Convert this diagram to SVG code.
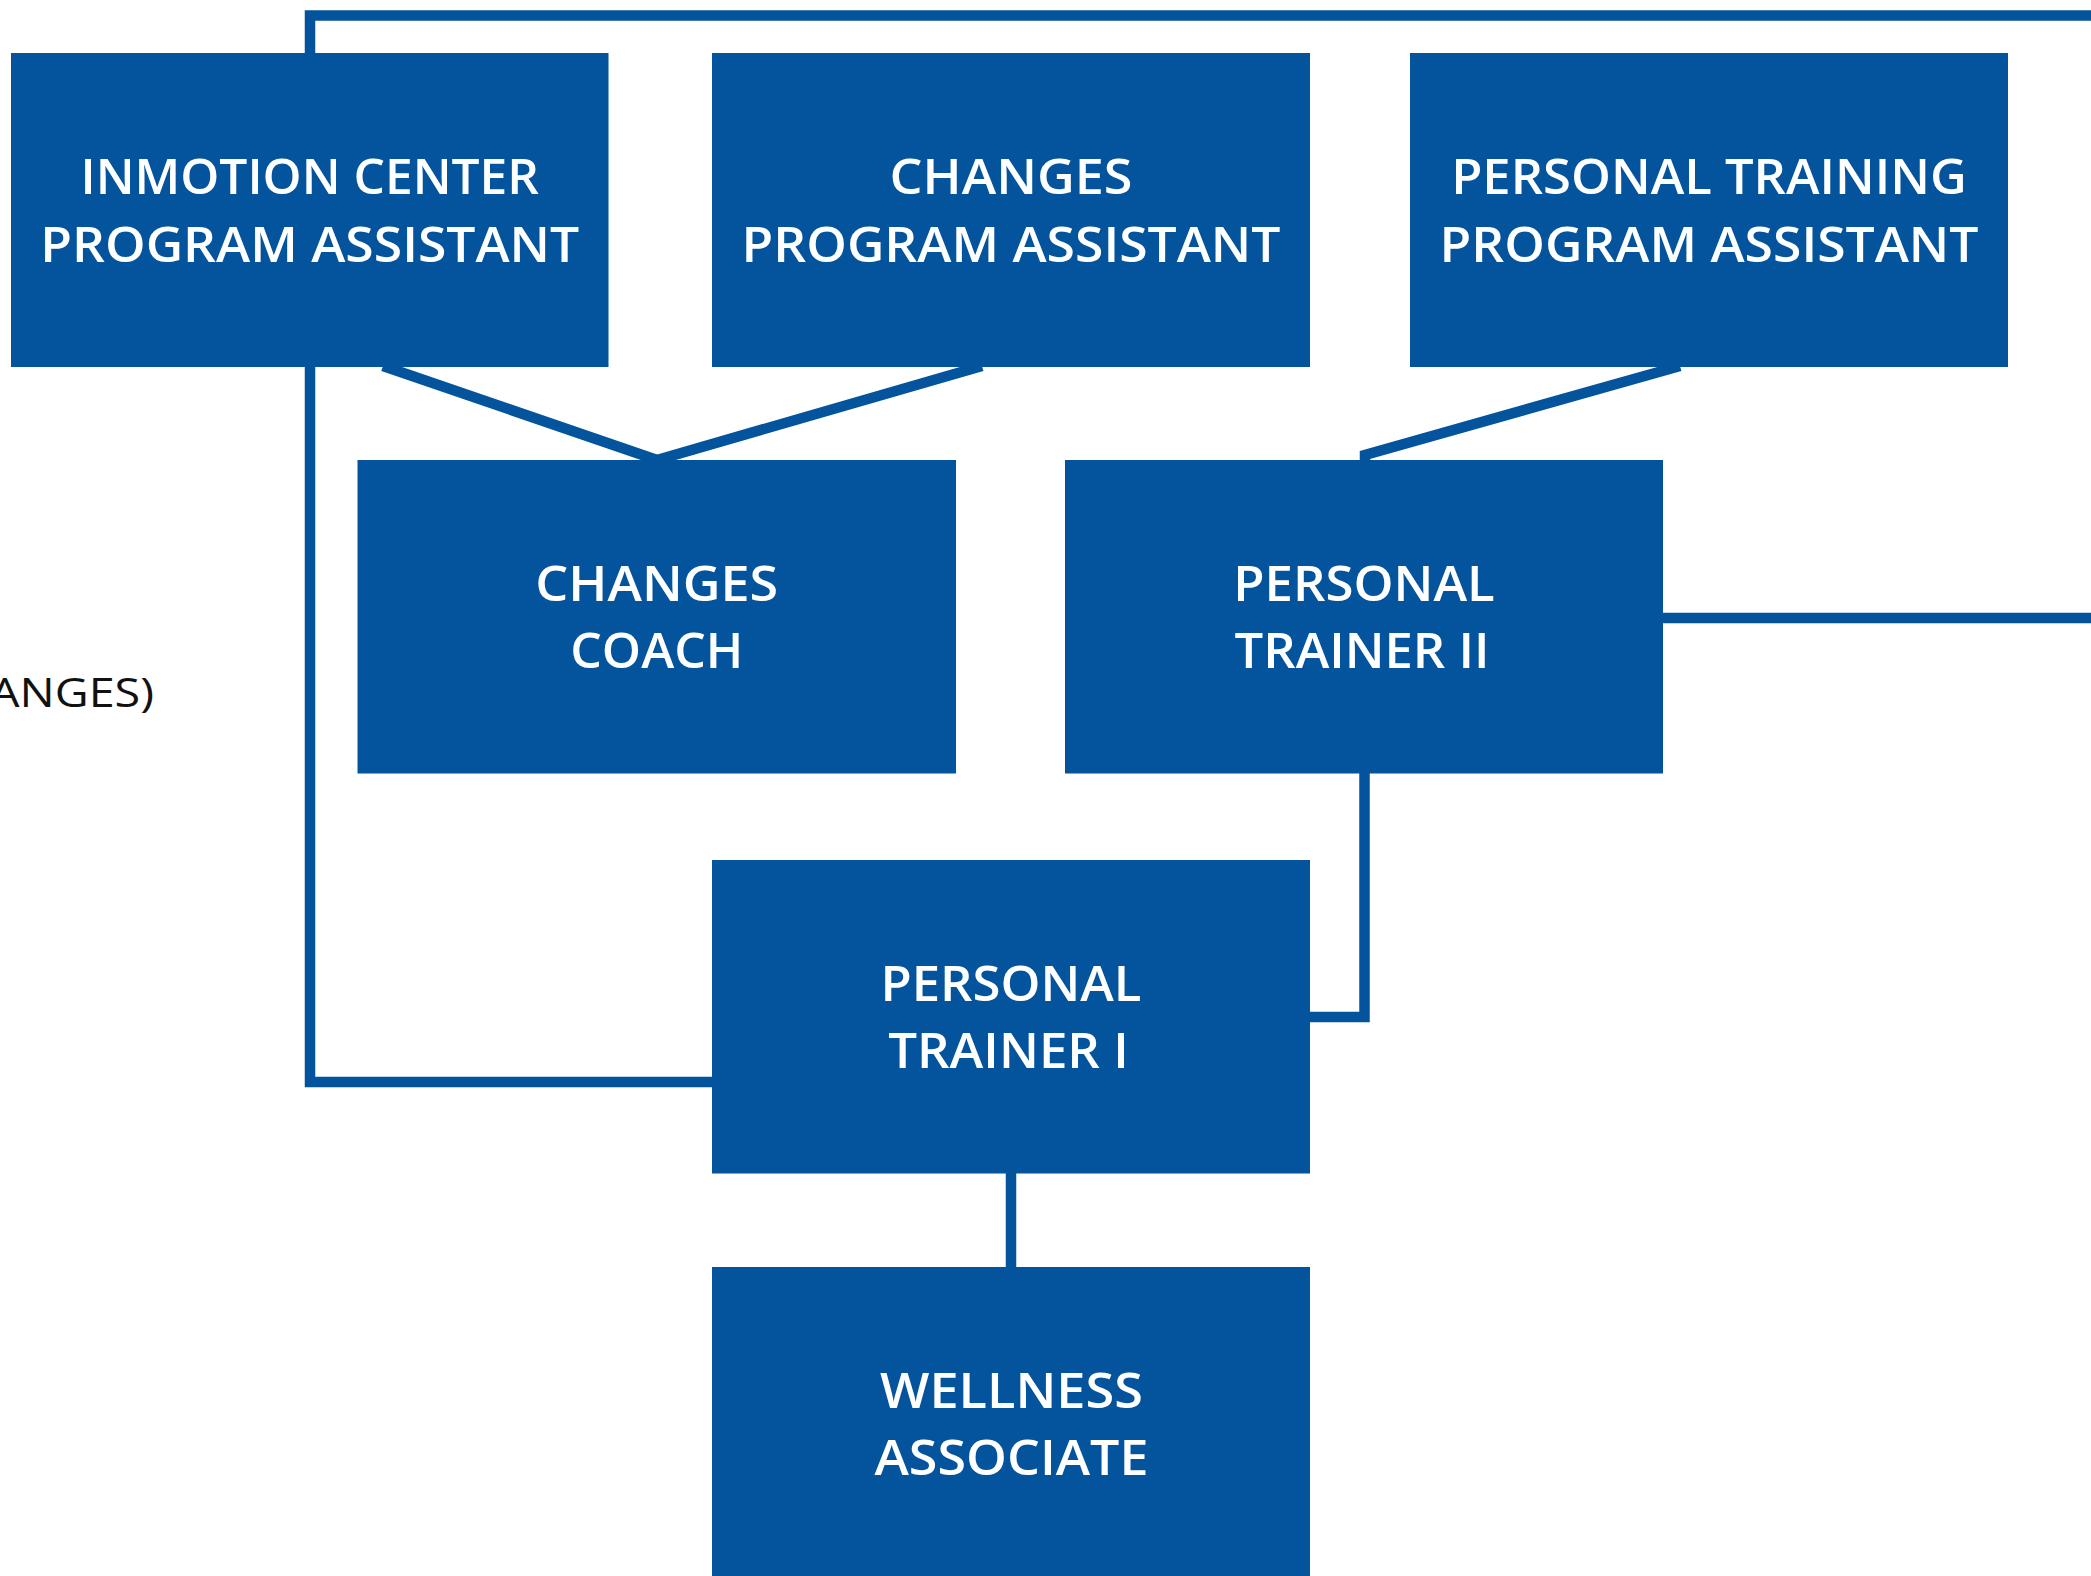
<svg xmlns="http://www.w3.org/2000/svg" width="2091" height="1576" viewBox="0 0 2091 1576">
<style>
.box{fill:#03549c}
.lbl{fill:#ffffff;font-family:"Open Sans","DejaVu Sans",sans-serif;font-weight:600;font-size:49px;text-anchor:middle}
.con{fill:none;stroke:#03549c;stroke-width:10.5;stroke-linejoin:miter}
.side{fill:#111111;font-family:"Open Sans","DejaVu Sans",sans-serif;font-weight:400;font-size:40px}
</style>
<rect width="2091" height="1576" fill="#ffffff"/>
<g id="connectors">
<path class="con" d="M310,53 V15.5 H2100"/>
<path class="con" d="M310,366 V1082 H712"/>
<path class="con" d="M383,366 L657,460 L982,366"/>
<path class="con" d="M1680,366 L1365,455 L1365,462"/>
<path class="con" d="M1663,618 H2100"/>
<path class="con" d="M1364.5,773 V1017 H1310"/>
<path class="con" d="M1011,1173 V1267"/>
</g>
<g id="side-label">
<text class="side" x="154" y="707" text-anchor="end" textLength="164" lengthAdjust="spacingAndGlyphs">ANGES)</text>
</g>
<g id="inmotion-pa">
<rect class="box" x="11" y="53" width="597.5" height="314"/>
<text class="lbl" x="309.75" y="194" textLength="458.5" lengthAdjust="spacingAndGlyphs">INMOTION CENTER</text>
<text class="lbl" x="309.75" y="261.5" textLength="539" lengthAdjust="spacingAndGlyphs">PROGRAM ASSISTANT</text>
</g>
<g id="changes-pa">
<rect class="box" x="712" y="53" width="598" height="314"/>
<text class="lbl" x="1011" y="194" textLength="243" lengthAdjust="spacingAndGlyphs">CHANGES</text>
<text class="lbl" x="1011" y="261.5" textLength="539" lengthAdjust="spacingAndGlyphs">PROGRAM ASSISTANT</text>
</g>
<g id="pt-pa">
<rect class="box" x="1410" y="53" width="598" height="314"/>
<text class="lbl" x="1709" y="194" textLength="515.7" lengthAdjust="spacingAndGlyphs">PERSONAL TRAINING</text>
<text class="lbl" x="1709" y="261.5" textLength="539" lengthAdjust="spacingAndGlyphs">PROGRAM ASSISTANT</text>
</g>
<g id="changes-coach">
<rect class="box" x="357.5" y="460" width="598.5" height="313.5"/>
<text class="lbl" x="656.75" y="601" textLength="243" lengthAdjust="spacingAndGlyphs">CHANGES</text>
<text class="lbl" x="656.75" y="668" textLength="173" lengthAdjust="spacingAndGlyphs">COACH</text>
</g>
<g id="pt-2">
<rect class="box" x="1065" y="460" width="598" height="313.5"/>
<text class="lbl" x="1364" y="601" textLength="261.5" lengthAdjust="spacingAndGlyphs">PERSONAL</text>
<text class="lbl" x="1362" y="668" textLength="255" lengthAdjust="spacingAndGlyphs">TRAINER II</text>
</g>
<g id="pt-1">
<rect class="box" x="712" y="860" width="598" height="313.5"/>
<text class="lbl" x="1011" y="1001" textLength="261" lengthAdjust="spacingAndGlyphs">PERSONAL</text>
<text class="lbl" x="1008.5" y="1068" textLength="240.6" lengthAdjust="spacingAndGlyphs">TRAINER I</text>
</g>
<g id="wellness">
<rect class="box" x="712" y="1267" width="598" height="320"/>
<text class="lbl" x="1011.5" y="1408" textLength="263" lengthAdjust="spacingAndGlyphs">WELLNESS</text>
<text class="lbl" x="1011.5" y="1475" textLength="274" lengthAdjust="spacingAndGlyphs">ASSOCIATE</text>
</g>
</svg>
